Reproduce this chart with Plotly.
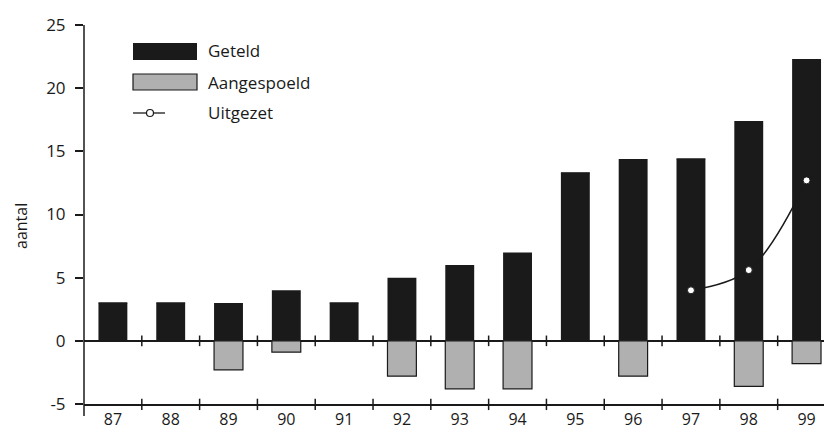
import plotly.graph_objects as go

years = ["87", "88", "89", "90", "91", "92", "93", "94", "95", "96", "97", "98", "99"]
geteld = [3, 3, 3, 4, 3, 5, 6, 7, 13.3, 14.4, 14.4, 17.4, 22.3]
aangespoeld = [0, 0, -2.3, -0.9, 0, -2.8, -3.8, -3.8, 0, -2.8, 0, -3.6, -1.8]
uitgezet_years = ["97", "98", "99"]
uitgezet = [4.0, 5.6, 12.7]
y_ticks = [-5, 0, 5, 10, 15, 20, 25]
y_ticktext = ["-5", "0", "5", "10", "15", "20", "25"]

# page has an 8px body margin; figure sized so it ends at the window edge
OFF = 8
W, H = 832 - OFF, 429 - OFF
L, R, T, B = 84 - OFF, 0, 25 - OFF, 429 - 404
BG = "#ffffff"
DARK = "#1a1a1a"
GRAY = "#b0b0b0"
FONT = "Open Sans"

xidx = list(range(len(years)))
uidx = [years.index(y) for y in uitgezet_years]

# helpers converting screenshot pixel positions to paper coordinates
def px(x):
    return (x - 84) / (832 - 84)

def py(y):
    return (404 - y) / (404 - 25)

fig = go.Figure()
fig.add_trace(go.Bar(x=xidx, y=geteld, width=0.5, marker=dict(color=DARK, line=dict(width=0)),
                     name="Geteld", showlegend=False))
fig.add_trace(go.Bar(x=xidx, y=aangespoeld, width=0.5,
                     marker=dict(color=GRAY, line=dict(color=DARK, width=1.2)),
                     name="Aangespoeld", showlegend=False))
fig.add_trace(go.Scatter(x=uidx, y=uitgezet, mode="lines+markers", line=dict(color=DARK, width=1.5, shape="spline"),
                         marker=dict(color="white", size=7, line=dict(color=DARK, width=1)),
                         name="Uitgezet", showlegend=False))

shapes = []
# boundary tick marks crossing zero line and bottom axis
for i in range(len(years) - 1):
    b = i + 0.5
    shapes.append(dict(type="line", xref="x", yref="y", x0=b, x1=b, y0=-0.42, y1=0.42,
                       line=dict(color=DARK, width=1.5)))
    shapes.append(dict(type="line", xref="x", yref="paper", x0=b, x1=b, y0=-0.016, y1=0.014,
                       line=dict(color=DARK, width=1.5)))
# extended y axis line
shapes.append(dict(type="line", xref="paper", yref="paper", x0=0, x1=0, y0=py(416), y1=1,
                   line=dict(color=DARK, width=1.5)))
# manual legend
shapes.append(dict(type="rect", xref="paper", yref="paper", x0=px(133), x1=px(197), y0=py(60), y1=py(43),
                   fillcolor=DARK, line=dict(width=0)))
shapes.append(dict(type="rect", xref="paper", yref="paper", x0=px(133), x1=px(197), y0=py(90), y1=py(74),
                   fillcolor=GRAY, line=dict(color=DARK, width=1.2)))
shapes.append(dict(type="line", xref="paper", yref="paper", x0=px(133), x1=px(165), y0=py(113), y1=py(113),
                   line=dict(color=DARK, width=1.3)))
shapes.append(dict(type="circle", xref="paper", yref="paper", xsizemode="pixel", ysizemode="pixel",
                   xanchor=px(150), yanchor=py(113), x0=-3.5, x1=3.5, y0=-3.5, y1=3.5,
                   fillcolor="white", line=dict(color=DARK, width=1.2)))

annotations = []
for label, yy in [("Geteld", 51), ("Aangespoeld", 82), ("Uitgezet", 112)]:
    annotations.append(dict(text=label, xref="paper", yref="paper", x=px(206), y=py(yy),
                            xanchor="left", yanchor="middle", showarrow=False,
                            font=dict(family=FONT, size=17, color=DARK)))
annotations.append(dict(text="aantal", xref="paper", yref="paper", x=px(21), y=py(226),
                        xanchor="center", yanchor="middle", textangle=-90, showarrow=False,
                        font=dict(family=FONT, size=16, color=DARK)))

fig.update_layout(
    width=W, height=H,
    margin=dict(l=L, r=R, t=T, b=B, pad=0, autoexpand=False),
    paper_bgcolor=BG, plot_bgcolor=BG,
    barmode="relative",
    showlegend=False,
    shapes=shapes,
    annotations=annotations,
    font=dict(family=FONT, size=17, color=DARK),
    xaxis=dict(range=[-0.5, 12.44], tickvals=xidx, ticktext=years, ticks="",
               showline=True, linecolor=DARK, linewidth=1.5, showgrid=False, zeroline=False,
               ticklabelstandoff=0, automargin=False, tickfont=dict(size=16), fixedrange=True),
    yaxis=dict(range=[-5, 25], tickvals=y_ticks, ticktext=y_ticktext, ticks="outside", ticklen=8,
               tickwidth=1.5, tickcolor=DARK, showline=False, showgrid=False, automargin=False,
               zeroline=True, zerolinecolor=DARK, zerolinewidth=1.5, ticklabelstandoff=6),
)

fig.write_html("out.html")
